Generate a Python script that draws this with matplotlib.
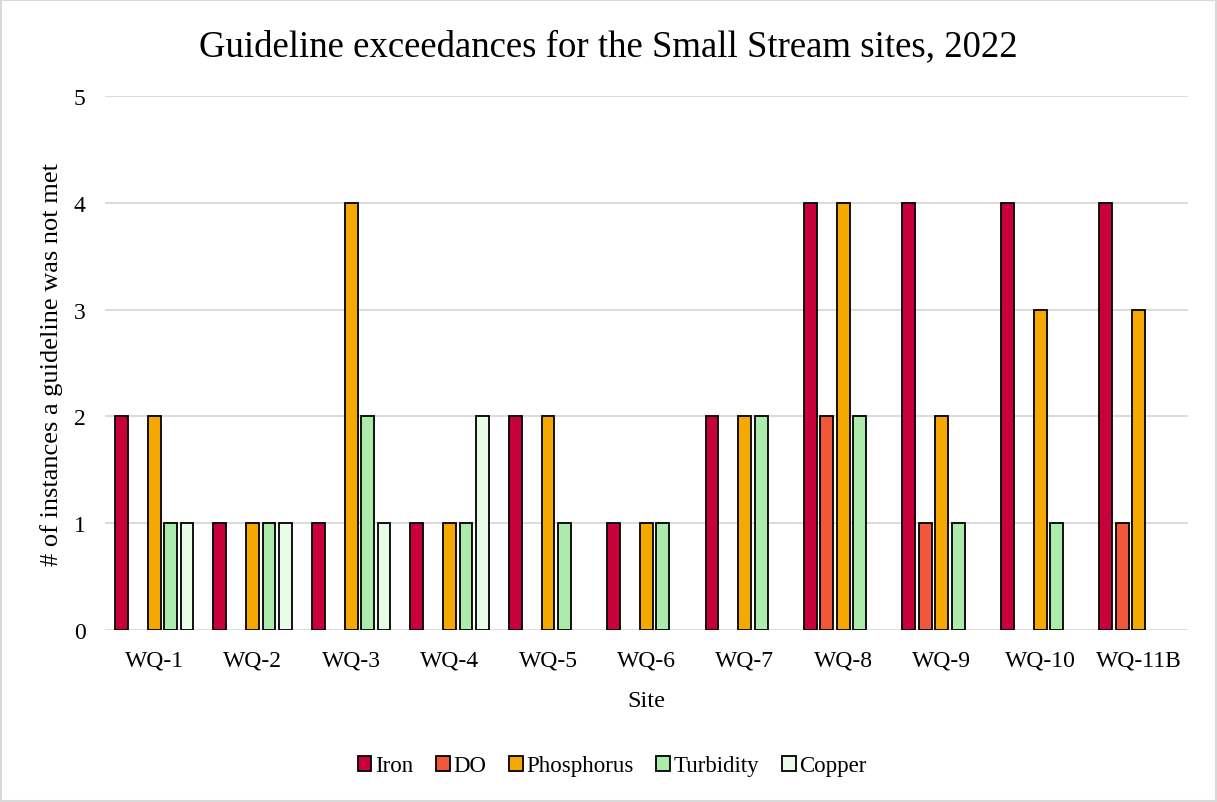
import matplotlib.pyplot as plt
import numpy as np
from matplotlib.patches import Rectangle

plt.rcParams['font.family'] = ['Liberation Serif', 'DejaVu Serif']

sites = ['WQ-1', 'WQ-2', 'WQ-3', 'WQ-4', 'WQ-5', 'WQ-6', 'WQ-7', 'WQ-8', 'WQ-9', 'WQ-10', 'WQ-11B']
iron = [2, 1, 1, 1, 2, 1, 2, 4, 4, 4, 4]
do = [0, 0, 0, 0, 0, 0, 0, 2, 1, 0, 1]
phosphorus = [2, 1, 4, 1, 2, 1, 2, 4, 2, 3, 3]
turbidity = [1, 1, 2, 1, 1, 1, 2, 2, 1, 1, 0]
copper = [1, 1, 1, 2, 0, 0, 0, 0, 0, 0, 0]

series = [('Iron', iron, '#C8003C'),
          ('DO', do, '#F0583A'),
          ('Phosphorus', phosphorus, '#F5A800'),
          ('Turbidity', turbidity, '#ADEBAD'),
          ('Copper', copper, '#E8FCE8')]

fig = plt.figure(figsize=(12.17, 8.03), dpi=100)
ax = fig.add_axes([0.0863, 0.2142, 0.8897, 0.6648])

index = np.arange(len(sites))
slot = 1 / 6.0
bar_width = 0.13

for i, (name, vals, color) in enumerate(series):
    # zero-height bars show no outline
    lw = [1.3 if v > 0 else 0 for v in vals]
    ax.bar(index + (i - 2) * slot, vals, bar_width, label=name, color=color,
           edgecolor='black', linewidth=lw, zorder=3)

ax.set_xlim(-0.5, len(sites) - 0.5)
ax.set_ylim(0, 5)
ax.set_yticks(range(6))
ax.set_xticks(index)
ax.set_xticklabels(sites)
ax.tick_params(axis='both', length=0, labelsize=17, colors='black')
ax.tick_params(axis='x', pad=14)
ax.tick_params(axis='y', pad=14)
ax.grid(axis='y', color='#d9d9d9', linewidth=1.3, zorder=0)
for s in ax.spines.values():
    s.set_visible(False)

fig.text(0.5, 0.942, 'Guideline exceedances for the Small Stream sites, 2022',
         fontsize=26.5, ha='center', va='center')
ax.set_xlabel('Site', fontsize=17.5, labelpad=14)
ax.set_ylabel('# of instances a guideline was not met', fontsize=19, labelpad=8)

leg = ax.legend(loc='center', bbox_to_anchor=(0.503, 0.045), bbox_transform=fig.transFigure,
                ncol=5, frameon=False, fontsize=16.5, handlelength=0.6, handleheight=0.6,
                handletextpad=0.15, columnspacing=1.0)
for h in leg.legend_handles:
    h.set_linewidth(1.3)

fig.patches.append(Rectangle((0.001, 0.001), 0.998, 0.998, transform=fig.transFigure,
                             fill=False, edgecolor='#d9d9d9', linewidth=1.5))

plt.savefig('out.png', dpi=100)
